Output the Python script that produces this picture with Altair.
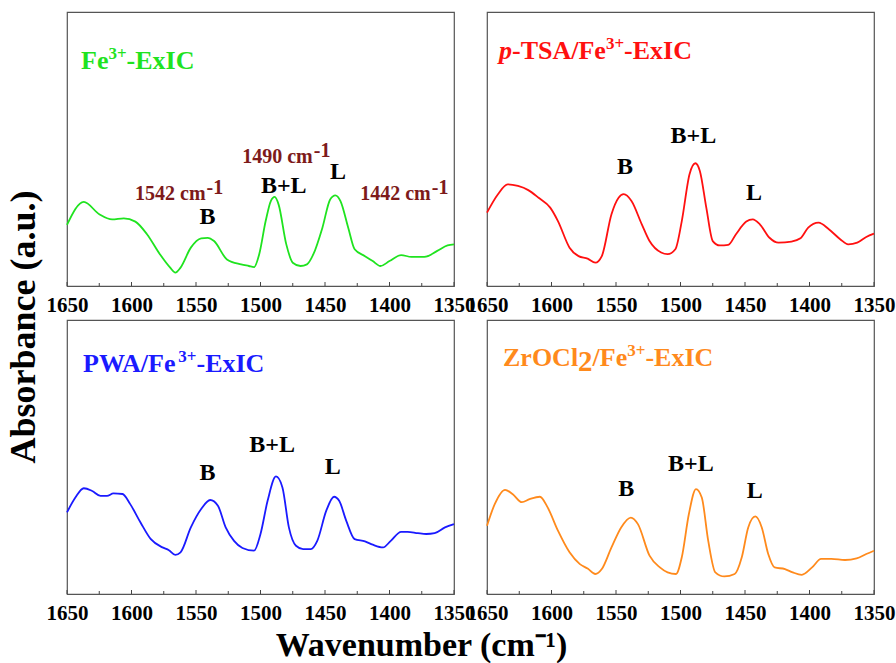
import altair as alt
import pandas as pd

# ---------------- data ----------------
fe_wn = [1650, 1637, 1625, 1615, 1606, 1597, 1588, 1578, 1570, 1566,
         1562, 1554, 1546, 1541, 1536, 1526, 1515, 1509, 1505, 1501,
         1496, 1492, 1489, 1486, 1480, 1475, 1469, 1464, 1459, 1452,
         1446, 1442, 1438, 1432, 1427, 1419, 1413, 1407, 1400, 1391,
         1383, 1373, 1363, 1355, 1350]
fe_abs = [0.223, 0.307, 0.262, 0.243, 0.247, 0.235, 0.189, 0.116, 0.067, 0.049,
          0.067, 0.140, 0.174, 0.176, 0.164, 0.097, 0.079, 0.073, 0.069, 0.116,
          0.237, 0.310, 0.325, 0.298, 0.152, 0.085, 0.073, 0.079, 0.116, 0.213,
          0.316, 0.331, 0.310, 0.213, 0.134, 0.109, 0.091, 0.073, 0.091, 0.113,
          0.106, 0.106, 0.128, 0.148, 0.152]

ptsa_wn = [1650, 1641.5, 1634, 1626, 1618, 1610, 1601, 1595, 1586, 1579,
           1572, 1566, 1561, 1553.5, 1548, 1544, 1538, 1530, 1524, 1515,
           1510, 1504, 1499, 1493, 1488.5, 1485, 1480, 1475, 1469.5, 1463,
           1457, 1449, 1444, 1438.5, 1431, 1424, 1414, 1407, 1401, 1393,
           1385, 1376, 1370, 1363, 1356, 1350]
ptsa_abs = [0.268, 0.335, 0.371, 0.365, 0.350, 0.322, 0.286, 0.237, 0.140, 0.109,
            0.100, 0.085, 0.109, 0.262, 0.322, 0.335, 0.310, 0.225, 0.164, 0.122,
            0.116, 0.134, 0.237, 0.408, 0.448, 0.420, 0.286, 0.164, 0.148, 0.150,
            0.189, 0.235, 0.243, 0.225, 0.176, 0.158, 0.162, 0.174, 0.213, 0.231,
            0.207, 0.170, 0.152, 0.158, 0.179, 0.191]

pwa_wn = [1650, 1643.5, 1637, 1630.5, 1624, 1619, 1614, 1607, 1601, 1593,
          1585, 1576, 1571, 1566, 1562, 1554, 1546, 1539, 1533, 1527,
          1520.5, 1514, 1505, 1500, 1494.5, 1488, 1483, 1478, 1472.5, 1467,
          1461, 1456, 1449, 1443, 1439, 1433.5, 1427, 1419, 1413, 1405,
          1399, 1391, 1386, 1378, 1371.5, 1365, 1357, 1350]
pwa_abs = [0.298, 0.352, 0.386, 0.376, 0.358, 0.358, 0.367, 0.365, 0.328, 0.261,
           0.200, 0.170, 0.160, 0.143, 0.152, 0.243, 0.310, 0.343, 0.322, 0.243,
           0.194, 0.168, 0.158, 0.219, 0.340, 0.429, 0.389, 0.243, 0.176, 0.164,
           0.164, 0.194, 0.304, 0.355, 0.340, 0.267, 0.200, 0.192, 0.180, 0.170,
           0.194, 0.227, 0.227, 0.222, 0.219, 0.222, 0.243, 0.255]

zr_wn = [1650, 1644, 1636, 1630, 1623, 1617, 1609, 1603, 1595, 1586,
         1578, 1572, 1566, 1561, 1553.5, 1546, 1538.5, 1533, 1524, 1516,
         1510, 1503.5, 1499, 1493.5, 1488, 1483.5, 1478.5, 1473, 1466, 1458,
         1452.5, 1447.5, 1442, 1437, 1432, 1427, 1419, 1413, 1406, 1398,
         1391, 1383, 1372.5, 1363.5, 1356, 1350]
zr_abs = [0.249, 0.328, 0.380, 0.364, 0.335, 0.346, 0.355, 0.316, 0.231, 0.152,
          0.109, 0.093, 0.073, 0.091, 0.170, 0.243, 0.279, 0.255, 0.140, 0.097,
          0.079, 0.073, 0.134, 0.292, 0.383, 0.352, 0.194, 0.079, 0.064, 0.073,
          0.134, 0.243, 0.283, 0.243, 0.146, 0.097, 0.091, 0.079, 0.070, 0.097,
          0.128, 0.128, 0.124, 0.130, 0.146, 0.158]

tick_labels = [1650, 1600, 1550, 1500, 1450, 1400, 1350]
minor_ticks = [1625, 1575, 1525, 1475, 1425, 1375]

peak_names = ["B", "B+L", "L"]
fe_peak_wn = [1541, 1482, 1440]
fe_peak_y = [0.252, 0.365, 0.416]
ptsa_peak_wn = [1543, 1490, 1443]
ptsa_peak_y = [0.434, 0.547, 0.339]
pwa_peak_wn = [1541, 1491, 1444]
pwa_peak_y = [0.443, 0.543, 0.465]
zr_peak_wn = [1542, 1492, 1442.5]
zr_peak_y = [0.384, 0.473, 0.376]

band_text = ["1542 cm", "1490 cm", "1442 cm"]
band_wn = [1542.6, 1459.5, 1368]
band_y = [0.336, 0.471, 0.336]

x_title = "Wavenumber (cm⁻¹)"
y_title = "Absorbance (a.u.)"

# ---------------- styling ----------------
W, H = 387, 274
SERIF = "Liberation Serif"
GREEN, RED, BLUE, ORANGE = "#1fe31f", "#ff1010", "#1a1aff", "#ff8a1c"
MAROON = "#7d1a1a"

XSCALE = alt.Scale(domain=[1650, 1350], nice=False, zero=False)
YSCALE = alt.Scale(domain=[0, 1], nice=False, zero=False)
XAXIS = alt.Axis(values=tick_labels, title=None, grid=False, ticks=False,
                 domain=False, labelFont=SERIF, labelFontWeight="bold",
                 labelFontSize=21, labelColor="black", labelPadding=8,
                 labelFlush=False, labelOverlap=False, format="d")

# Times-Bold advance widths (Liberation Serif is metric compatible)
TB = {' ': 250, '+': 570, '-': 333, '/': 278, 'A': 722, 'B': 667, 'C': 722,
      'E': 667, 'F': 611, 'I': 389, 'L': 667, 'O': 778, 'P': 611, 'S': 556,
      'T': 667, 'W': 1000, 'Z': 667, 'a': 500, 'e': 444, 'l': 278, 'r': 444,
      'x': 500, 'c': 444, 'm': 833, 'p': 556}


def text_width(s, size, italic=False):
    w = 0
    for ch in s:
        if ch.isdigit():
            w += 500
        elif italic and ch == 'p':
            w += 500
        else:
            w += TB.get(ch, 500)
    return w * size / 1000.0


one = pd.DataFrame({"k": [0]})


def xq(field):
    return alt.X(field, scale=XSCALE, axis=XAXIS)


def yq(field):
    return alt.Y(field, scale=YSCALE, axis=None)


def title_layers(segments, x0, base, color):
    layers = []
    x = x0
    for txt, size, dy, italic in segments:
        kw = dict(text=txt, font=SERIF, fontSize=size, fontWeight="bold",
                  color=color, align="left", baseline="alphabetic")
        if italic:
            kw["fontStyle"] = "italic"
        layers.append(alt.Chart(one).mark_text(**kw).encode(
            x=alt.value(x), y=alt.value(base + dy)))
        x += text_width(txt, size, italic)
    return layers


def panel(wn, ab, color, segs, tx, tb, pk_wn, pk_y, bands=None, ytitle=False):
    df = pd.DataFrame({"wn": wn, "a": ab, "i": list(range(len(wn)))})
    line = alt.Chart(df).mark_line(color=color, strokeWidth=1.8,
                                   interpolate="monotone").encode(
        x=xq("wn:Q"), y=yq("a:Q"), order="i:Q")

    major = alt.Chart(pd.DataFrame({"t": tick_labels})).mark_rule(
        color="#444", strokeWidth=1).encode(
        x=xq("t:Q"), y=alt.value(H), y2=alt.value(H - 4))
    minor = alt.Chart(pd.DataFrame({"t": minor_ticks})).mark_rule(
        color="#444", strokeWidth=1).encode(
        x=xq("t:Q"), y=alt.value(H), y2=alt.value(H - 3))

    pk = pd.DataFrame({"wn": pk_wn, "a": pk_y, "t": peak_names})
    peaks = alt.Chart(pk).mark_text(font=SERIF, fontWeight="bold",
                                    fontSize=24, color="black",
                                    baseline="middle").encode(
        x=xq("wn:Q"), y=yq("a:Q"), text="t:N")

    layers = [line, major, minor, peaks]
    if bands is not None:
        bdf = pd.DataFrame({"wn": bands[1], "a": bands[2], "t": bands[0]})
        main = alt.Chart(bdf).mark_text(font=SERIF, fontWeight="bold",
                                        fontSize=20, color=MAROON,
                                        align="right", baseline="middle").encode(
            x=xq("wn:Q"), y=yq("a:Q"), text="t:N")
        sup = alt.Chart(bdf).mark_text(text="-1", font=SERIF, fontWeight="bold",
                                       fontSize=20, color=MAROON, dx=1, dy=-6,
                                       align="left", baseline="middle").encode(
            x=xq("wn:Q"), y=yq("a:Q"))
        layers += [main, sup]
    if ytitle:
        yt = alt.Chart(one).mark_text(text=y_title, font=SERIF, fontSize=36,
                                      fontWeight="bold", color="black",
                                      angle=270, align="center",
                                      baseline="middle").encode(
            x=alt.value(-43), y=alt.value(315))
        layers.append(yt)
    layers += title_layers(segs, tx, tb, color)
    return alt.layer(*layers).properties(
        width=W, height=H,
        view=alt.ViewBackground(stroke="#555555", strokeWidth=1.2))


p1 = panel(fe_wn, fe_abs, GREEN,
           [("Fe", 26, 0, False), ("3+", 17, -10, False), ("-ExIC", 26, 0, False)],
           14, 57, fe_peak_wn, fe_peak_y, bands=(band_text, band_wn, band_y),
           ytitle=True)
p2 = panel(ptsa_wn, ptsa_abs, RED,
           [("p", 26, 0, True), ("-TSA/Fe", 26, 0, False), ("3+", 17, -10, False),
            ("-ExIC", 26, 0, False)],
           12, 47, ptsa_peak_wn, ptsa_peak_y)
p3 = panel(pwa_wn, pwa_abs, BLUE,
           [("PWA/Fe", 26, 0, False), ("3+", 17, -10, False), ("-ExIC", 26, 0, False)],
           16, 52, pwa_peak_wn, pwa_peak_y)
p4 = panel(zr_wn, zr_abs, ORANGE,
           [("ZrOCl", 26, 0, False), ("2", 29, 5, False), ("/Fe", 26, 0, False),
            ("3+", 17, -10, False), ("-ExIC", 26, 0, False)],
           16, 46, zr_peak_wn, zr_peak_y)

chart = alt.concat(
    p1, p2, p3, p4, columns=2,
    spacing={"row": 34, "column": 33}, bounds="flush",
    title=alt.Title(x_title, orient="bottom", anchor="middle", font=SERIF,
                    fontSize=34, fontWeight="bold", color="black",
                    offset=5, dx=-29)
).properties(
    padding={"top": 11, "left": 5, "right": 0, "bottom": 0}
).configure_view(stroke="#555555", strokeWidth=1.2
).configure(background="white")

chart.save("out.html", embed_options={"renderer": "svg", "actions": False})
